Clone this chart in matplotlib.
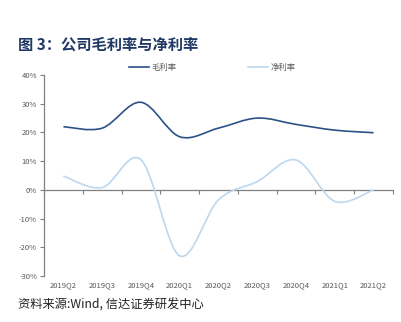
import numpy as np
import matplotlib
matplotlib.use("Agg")
import matplotlib.pyplot as plt
from matplotlib.path import Path
from matplotlib.patches import PathPatch
from matplotlib.lines import Line2D

plt.rcParams['font.family'] = ['Noto Sans CJK SC', 'DejaVu Sans']

# Data (percent)
quarters = ["2019Q2", "2019Q3", "2019Q4", "2020Q1", "2020Q2",
            "2020Q3", "2020Q4", "2021Q1", "2021Q2"]
gross_margin = [22.0, 21.5, 30.5, 18.5, 21.5, 25.0, 22.8, 20.8, 19.9]
net_margin = [4.8, 0.8, 10.5, -23.0, -3.5, 2.9, 10.4, -4.0, 0.0]

GROSS_COLOR = "#2B5286"
NET_COLOR = "#BDD7EE"
TEXT_GRAY = "#595959"
AXIS_GRAY = "#808080"


def smooth_path(xs, ys):
    """Excel-like smoothed line: Catmull-Rom segments as cubic Bezier curves."""
    pts = np.column_stack([xs, ys]).astype(float)
    n = len(pts)
    verts = [pts[0]]
    codes = [Path.MOVETO]
    for i in range(n - 1):
        p0 = pts[max(i - 1, 0)]
        p1 = pts[i]
        p2 = pts[i + 1]
        p3 = pts[min(i + 2, n - 1)]
        c1 = p1 + (p2 - p0) / 6.0
        c2 = p2 - (p3 - p1) / 6.0
        verts += [c1, c2, p2]
        codes += [Path.CURVE4] * 3
    return Path(verts, codes)


fig = plt.figure(figsize=(4.02, 3.22), dpi=100)
ax = fig.add_axes([0.1095, 0.143, 0.868, 0.624])

x = np.arange(len(quarters))
ax.add_patch(PathPatch(smooth_path(x, gross_margin), fill=False,
                       edgecolor=GROSS_COLOR, lw=1.2, zorder=3))
ax.add_patch(PathPatch(smooth_path(x, net_margin), fill=False,
                       edgecolor=NET_COLOR, lw=1.2, zorder=3))

ax.set_xlim(-0.5, len(quarters) - 0.5)
ax.set_ylim(-30, 40)
ax.set_yticks(np.arange(-30, 41, 10))
ax.set_yticklabels([f"{v}%" for v in range(-30, 41, 10)])
ax.tick_params(axis='y', length=3, width=0.8, color=AXIS_GRAY,
               labelsize=5.5, labelcolor=TEXT_GRAY, pad=2)

ax.set_xticks(x)
ax.set_xticklabels(quarters)
ax.tick_params(axis='x', length=0, labelsize=5.5, labelcolor=TEXT_GRAY, pad=4)

for s in ['top', 'right', 'bottom']:
    ax.spines[s].set_visible(False)
ax.spines['left'].set_color(AXIS_GRAY)
ax.spines['left'].set_linewidth(0.9)

# zero line with category boundary ticks
zero_ax = ax.secondary_xaxis(30 / 70)
zero_ax.set_xticks(np.arange(-0.5, len(quarters), 1.0))
zero_ax.tick_params(axis='x', direction='out', length=3, width=0.8,
                    color=AXIS_GRAY, labelbottom=False, labeltop=False,
                    bottom=True, top=False)
zero_ax.xaxis.set_ticks_position('bottom')
zero_ax.set_xticklabels([])
zero_ax.spines['bottom'].set_color(AXIS_GRAY)
zero_ax.spines['bottom'].set_linewidth(0.9)

handles = [Line2D([], [], color=GROSS_COLOR, lw=1.2),
           Line2D([], [], color=NET_COLOR, lw=1.2)]
fig.legend(handles, ["毛利率", "净利率"], ncol=2, frameon=False,
           loc='center', bbox_to_anchor=(0.528, 0.79), fontsize=6,
           labelcolor=TEXT_GRAY, handlelength=2.4, handletextpad=0.3,
           columnspacing=8.5)

fig.text(0.045, 0.86, "图 3：公司毛利率与净利率", fontsize=11,
         fontweight='bold', color="#1F3864", va='center')
fig.text(0.045, 0.052, "资料来源:Wind, 信达证券研发中心", fontsize=8.8,
         color="#222222", va='center', style='italic')

fig.savefig("out.png", dpi=100)
